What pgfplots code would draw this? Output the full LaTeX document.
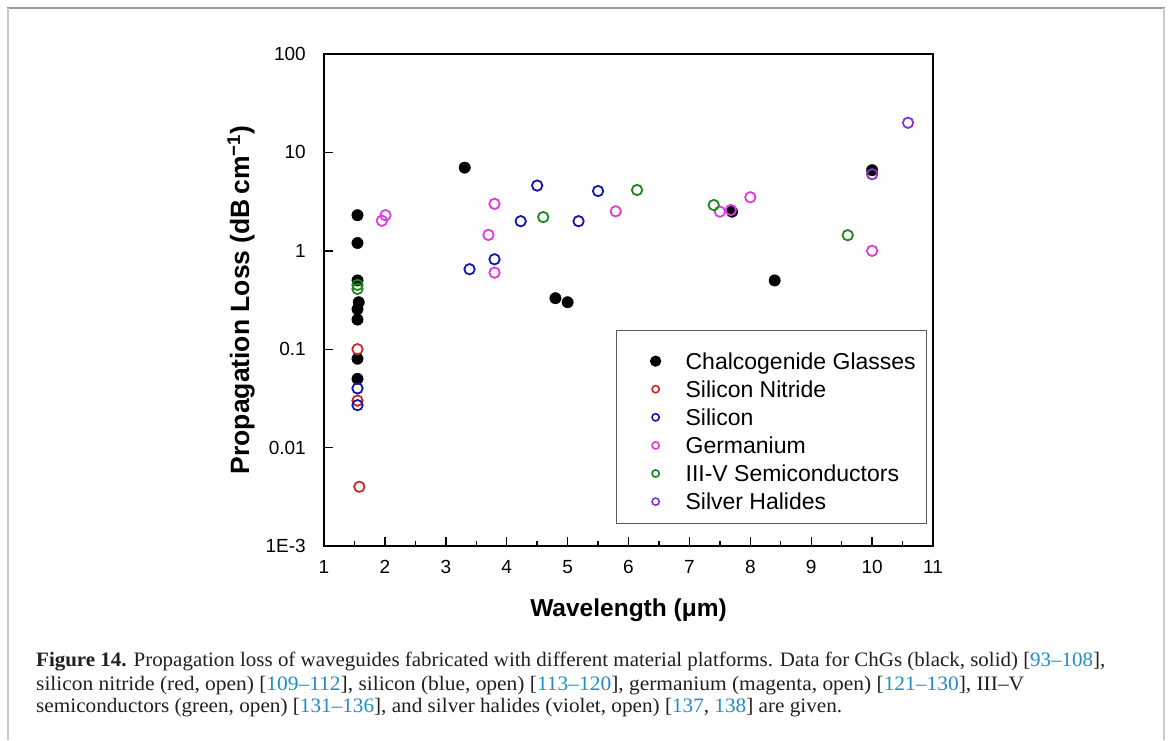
\documentclass[border=0pt]{standalone}
\usepackage{fontspec}
\setmainfont{Liberation Sans}
\newfontfamily\capfont{Liberation Serif}
\usepackage{graphicx}
\usepackage{pgfplots}
\pgfplotsset{compat=1.18}
\definecolor{cred}{RGB}{205,40,40}
\definecolor{cblue}{RGB}{20,20,175}
\definecolor{cmag}{RGB}{222,60,222}
\definecolor{cgreen}{RGB}{30,135,30}
\definecolor{cviolet}{RGB}{140,50,215}
\definecolor{captext}{RGB}{35,31,32}
\definecolor{refblue}{RGB}{35,140,200}
\begin{document}
\begin{tikzpicture}
\useasboundingbox (0pt,0pt) rectangle (1169pt,740pt);
\fill[white] (0pt,0pt) rectangle (1169pt,740pt);
\draw[color={rgb,255:red,155;green,155;blue,155}, line width=1.2pt] (7pt,732pt) -- (1165pt,732pt);
\draw[color={rgb,255:red,200;green,200;blue,200}, line width=1.6pt] (8pt,732pt) -- (8pt,0pt);
\draw[color={rgb,255:red,200;green,200;blue,200}, line width=1.6pt] (1164pt,732pt) -- (1164pt,0pt);
\begin{axis}[
  at={(324pt,194pt)}, anchor=south west,
  scale only axis, width=609pt, height=492pt,
  ymode=log, xmin=1, xmax=11, ymin=1e-3, ymax=100,
  axis line style={line width=1.6pt},
  every tick/.style={black, line width=1.4pt},
  tick align=inside, tick pos=left,
  major tick length=9pt, minor tick length=5pt,
  xtick={1,2,...,11}, minor x tick num=1,
  ytick={0.001,0.01,0.1,1,10,100},
  yticklabels={1E-3,0.01,0.1,1,10,100},
  yminorticks=false,
  /pgf/number format/assume math mode=true,
  xticklabel style={font=\fontsize{19}{19}\selectfont, inner sep=0pt, anchor=north, yshift=-14pt},
  yticklabel style={font=\fontsize{19}{19}\selectfont, inner sep=0pt, anchor=east, xshift=-18pt},
  every axis x label/.style={at={(axis description cs:0.5,0)}, anchor=base, yshift=-70pt, font=\fontsize{24.5}{24.5}\selectfont\bfseries},
  every axis y label/.style={at={(axis description cs:-0.1363,0.5)}, rotate=90, anchor=center, font=\fontsize{26.5}{26.5}\selectfont\bfseries},
  xlabel={Wavelength (μm)},
  ylabel={Propagation Loss (dB\,cm\textsuperscript{−1})},
  legend cell align=left,
  legend style={at={(axis description cs:0.4795,0.439)}, anchor=north west,
    draw={rgb,255:red,90;green,90;blue,90}, line width=1.2pt, fill=white,
    inner xsep=9pt, inner ysep=6.5pt, row sep=5.6pt, column sep=22pt,
    font=\fontsize{23}{23}\selectfont,
    cells={anchor=base west, inner sep=0pt, text height=17pt, text depth=5pt}},
  legend image code/.code={\path[draw=none,fill=none] (-30pt,-3pt) rectangle (6pt,3pt); \draw[#1] plot coordinates {(0pt,8pt)};},
]
\addplot[only marks, mark=*, mark size=5.7pt, black, legend image post style={mark size=5pt}] coordinates {
(1.55,2.3) (1.55,1.2) (1.55,0.5) (1.57,0.30) (1.55,0.255) (1.55,0.2) (1.55,0.08) (1.55,0.05)
(3.31,7.0) (4.8,0.33) (5.0,0.30) (7.7,2.5) (8.4,0.5) (10.0,6.6)};
\addlegendentry[text height=30pt]{Chalcogenide Glasses}
\addplot[only marks, mark=o, mark size=5.2pt, line width=1.8pt, cred, legend image post style={mark size=3.6pt, line width=1.6pt}] coordinates {
(1.55,0.1) (1.55,0.03) (1.58,0.004)};
\addlegendentry{Silicon Nitride}
\addplot[only marks, mark=o, mark size=5.2pt, line width=1.8pt, cblue, legend image post style={mark size=3.6pt, line width=1.6pt}] coordinates {
(1.55,0.04) (1.55,0.027) (3.39,0.65) (3.8,0.82) (4.23,2.0) (4.5,4.6) (5.18,2.0) (5.5,4.05)};
\addlegendentry{Silicon}
\addplot[only marks, mark=o, mark size=5.2pt, line width=1.8pt, cmag, legend image post style={mark size=3.6pt, line width=1.6pt}] coordinates {
(1.95,2.02) (2.01,2.3) (3.7,1.45) (3.8,3.0) (3.8,0.6) (5.79,2.52) (7.5,2.5) (7.68,2.6) (8.0,3.5) (10.0,1.0)};
\addlegendentry{Germanium}
\addplot[only marks, mark=o, mark size=5.2pt, line width=1.8pt, cgreen, legend image post style={mark size=3.6pt, line width=1.6pt}] coordinates {
(1.55,0.45) (1.55,0.41) (4.6,2.2) (6.14,4.15) (7.4,2.92) (9.6,1.44)};
\addlegendentry{III-V Semiconductors}
\addplot[only marks, mark=o, mark size=5.2pt, line width=1.8pt, cviolet, legend image post style={mark size=3.6pt, line width=1.6pt}] coordinates {
(10.0,6.0) (10.59,20.0)};
\addlegendentry[text depth=5.5pt]{Silver Halides}
\end{axis}
\node[anchor=base west, inner sep=0pt, text=captext] at (36pt,73.3pt) {\capfont\fontsize{20.5}{20.5}\selectfont\resizebox{1069pt}{\height}{\textbf{Figure 14.} Propagation loss of waveguides fabricated with different material platforms. Data for ChGs (black, solid) [\textcolor{refblue}{93–108}],}};
\node[anchor=base west, inner sep=0pt, text=captext] at (36pt,50pt) {\capfont\fontsize{20.5}{20.5}\selectfont\resizebox{988pt}{\height}{silicon nitride (red, open) [\textcolor{refblue}{109–112}], silicon (blue, open) [\textcolor{refblue}{113–120}], germanium (magenta, open) [\textcolor{refblue}{121–130}], III–V}};
\node[anchor=base west, inner sep=0pt, text=captext] at (36pt,27.3pt) {\capfont\fontsize{20.5}{20.5}\selectfont\resizebox{806pt}{\height}{semiconductors (green, open) [\textcolor{refblue}{131–136}], and silver halides (violet, open) [\textcolor{refblue}{137}, \textcolor{refblue}{138}] are given.}};
\end{tikzpicture}
\end{document}
